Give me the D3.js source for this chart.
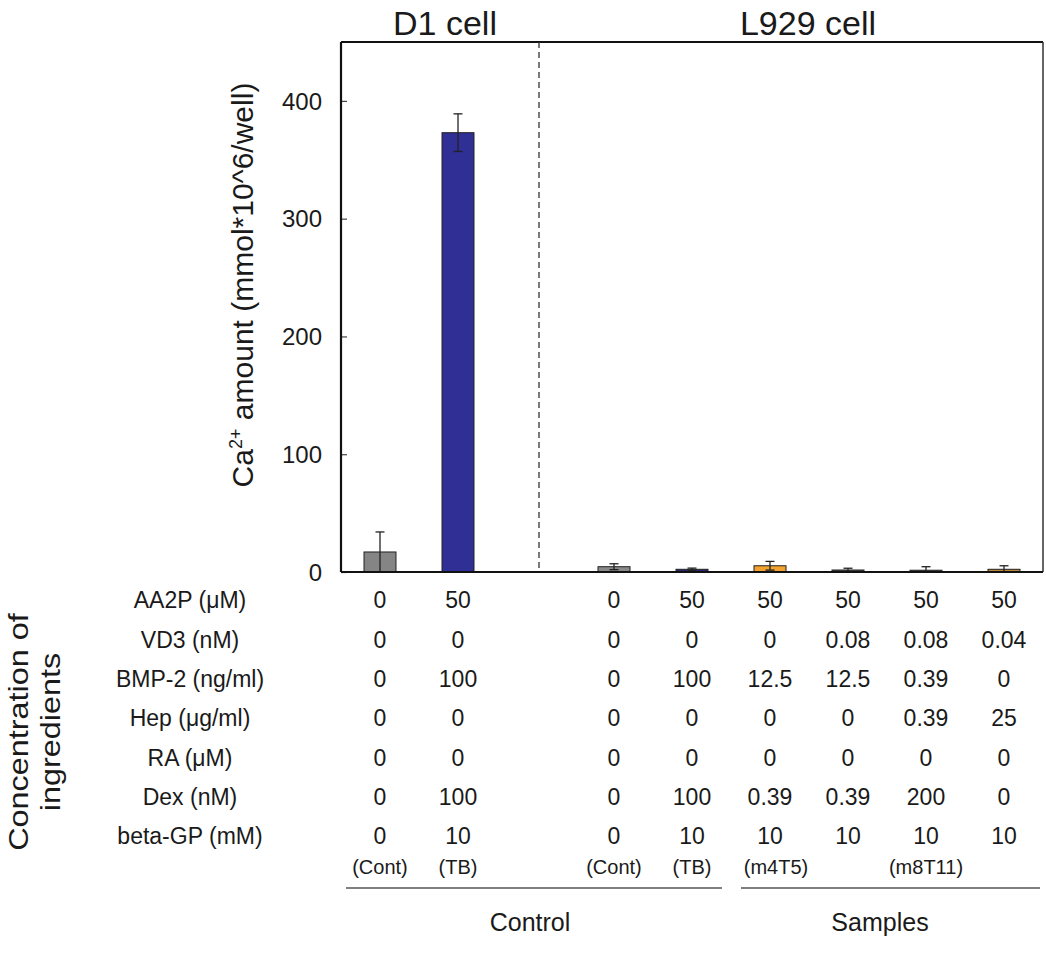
<!DOCTYPE html>
<html>
<head>
<meta charset="utf-8">
<script src="https://cdn.jsdelivr.net/npm/d3@7"></script>
<style>
  body { margin: 0; background: #fff; }
  svg text { font-family: "Liberation Sans", Arial, sans-serif; fill: #1a1a1a; }
</style>
</head>
<body>
<svg id="chart" width="1046" height="972"></svg>
<script>
// slots along the x axis ("gap" is the empty slot under the dashed divider)
const slots = ["d1Cont", "d1TB", "gap", "lCont", "lTB", "s1", "s2", "s3", "s4"];
const barSlots = ["d1Cont", "d1TB", "lCont", "lTB", "s1", "s2", "s3", "s4"];
const barValues = [17, 373, 4.5, 2.3, 5.3, 1.7, 1.5, 2.3];
const barErrors = [17, 16, 2.5, 1, 3.7, 1.5, 3, 3];
const barColors = ["#858585", "#2f2f96", "#8a8a8a", "#262670", "#f2a22e", "#4a4a4a", "#4a4a4a", "#b98735"];

const yTicks = [0, 100, 200, 300, 400];

const rowLabels = ["AA2P (\u03bcM)", "VD3 (nM)", "BMP-2 (ng/ml)", "Hep (\u03bcg/ml)", "RA (\u03bcM)", "Dex (nM)", "beta-GP (mM)"];
const aa2p = ["0", "50", "0", "50", "50", "50", "50", "50"];
const vd3 = ["0", "0", "0", "0", "0", "0.08", "0.08", "0.04"];
const bmp2 = ["0", "100", "0", "100", "12.5", "12.5", "0.39", "0"];
const hep = ["0", "0", "0", "0", "0", "0", "0.39", "25"];
const ra = ["0", "0", "0", "0", "0", "0", "0", "0"];
const dex = ["0", "100", "0", "100", "0.39", "0.39", "200", "0"];
const betaGP = ["0", "10", "0", "10", "10", "10", "10", "10"];
const sampleNames = ["(Cont)", "(TB)", "(Cont)", "(TB)", "(m4T5)", "", "(m8T11)", ""];

const svg = d3.select("#chart");

const x = d3.scaleBand()
  .domain(slots)
  .range([341, 1043])
  .paddingInner(0.59)
  .paddingOuter(0.295);

const y = d3.scaleLinear().domain([0, 450]).range([572, 42]);

const cx = (s) => x(s) + x.bandwidth() / 2;

// frame: top and right border
svg.append("line").attr("x1", 341).attr("x2", 1043).attr("y1", y(450)).attr("y2", y(450))
  .attr("stroke", "#111").attr("stroke-width", 2);
svg.append("line").attr("x1", 1043).attr("x2", 1043).attr("y1", y(450)).attr("y2", y(0))
  .attr("stroke", "#333").attr("stroke-width", 1.5);

// dashed divider between D1 and L929
svg.append("line")
  .attr("x1", cx("gap") + 3).attr("x2", cx("gap") + 3)
  .attr("y1", y(450)).attr("y2", y(0))
  .attr("stroke", "#333").attr("stroke-width", 1.3)
  .attr("stroke-dasharray", "6,4");

// bars
const bars = barSlots.map((s, i) => ({ slot: s, v: barValues[i], e: barErrors[i], c: barColors[i] }));

svg.selectAll(".bar")
  .data(bars)
  .enter()
  .append("rect")
  .attr("class", "bar")
  .attr("x", (d) => x(d.slot))
  .attr("width", x.bandwidth())
  .attr("y", (d) => y(d.v))
  .attr("height", (d) => y(0) - y(d.v))
  .attr("fill", (d) => d.c)
  .attr("stroke", "#222")
  .attr("stroke-width", 1);

// error bars
const err = svg.selectAll(".err").data(bars).enter().append("g").attr("class", "err")
  .attr("stroke", "#222").attr("stroke-width", 1.3);
err.append("line")
  .attr("x1", (d) => cx(d.slot)).attr("x2", (d) => cx(d.slot))
  .attr("y1", (d) => y(Math.max(0, d.v - d.e))).attr("y2", (d) => y(d.v + d.e));
err.append("line")
  .attr("x1", (d) => cx(d.slot) - 4.5).attr("x2", (d) => cx(d.slot) + 4.5)
  .attr("y1", (d) => y(d.v + d.e)).attr("y2", (d) => y(d.v + d.e));
err.append("line")
  .attr("x1", (d) => cx(d.slot) - 4.5).attr("x2", (d) => cx(d.slot) + 4.5)
  .attr("y1", (d) => y(Math.max(0, d.v - d.e))).attr("y2", (d) => y(Math.max(0, d.v - d.e)));

// y axis, ticks pointing inward
const yAxis = svg.append("g")
  .attr("transform", "translate(341,0)")
  .call(d3.axisRight(y).tickValues(yTicks).tickSize(6).tickFormat(""));
yAxis.select(".domain").remove();
yAxis.selectAll(".tick line").attr("stroke", "#444").attr("stroke-width", 1.2);

svg.selectAll(".ylab")
  .data(yTicks)
  .enter()
  .append("text")
  .attr("class", "ylab")
  .attr("x", 322)
  .attr("y", (d) => y(d))
  .attr("dy", "0.36em")
  .attr("text-anchor", "end")
  .attr("font-size", 24)
  .text((d) => d);

svg.append("line").attr("x1", 341).attr("x2", 341).attr("y1", y(450)).attr("y2", y(0))
  .attr("stroke", "#111").attr("stroke-width", 2.2);
svg.append("line").attr("x1", 341).attr("x2", 1043).attr("y1", y(0)).attr("y2", y(0))
  .attr("stroke", "#111").attr("stroke-width", 2.2);

// y axis title
const yTitle = svg.append("text")
  .attr("transform", "translate(253,285) rotate(-90)")
  .attr("text-anchor", "middle")
  .attr("font-size", 30);
yTitle.append("tspan").text("Ca");
yTitle.append("tspan").attr("font-size", 18).attr("dy", -11).text("2+");
yTitle.append("tspan").attr("dy", 11).text(" amount (mmol*10^6/well)");

// panel titles
svg.append("text").attr("x", 445).attr("y", 35).attr("text-anchor", "middle")
  .attr("font-size", 34).text("D1 cell");
svg.append("text").attr("x", 808).attr("y", 35).attr("text-anchor", "middle")
  .attr("font-size", 34).text("L929 cell");

// ingredient table
const table = [aa2p, vd3, bmp2, hep, ra, dex, betaGP];
const rowY = d3.scalePoint().domain(d3.range(rowLabels.length)).range([600, 836]);

svg.selectAll(".rowlab")
  .data(rowLabels)
  .enter()
  .append("text")
  .attr("class", "rowlab")
  .attr("x", 190)
  .attr("y", (d, i) => rowY(i))
  .attr("dy", "0.36em")
  .attr("text-anchor", "middle")
  .attr("font-size", 23)
  .text((d) => d);

table.forEach((row, r) => {
  svg.selectAll(".cell" + r)
    .data(row)
    .enter()
    .append("text")
    .attr("x", (d, i) => cx(barSlots[i]))
    .attr("y", rowY(r))
    .attr("dy", "0.36em")
    .attr("text-anchor", "middle")
    .attr("font-size", 23)
    .text((d) => d);
});

svg.selectAll(".sname")
  .data(sampleNames)
  .enter()
  .append("text")
  .attr("x", (d, i) => cx(barSlots[i]) + (i === 4 ? 6 : 0))
  .attr("y", 867)
  .attr("dy", "0.36em")
  .attr("text-anchor", "middle")
  .attr("font-size", 20)
  .text((d) => d);

// group brackets
svg.append("line").attr("x1", 346).attr("x2", 722).attr("y1", 888).attr("y2", 888)
  .attr("stroke", "#555").attr("stroke-width", 1.5);
svg.append("line").attr("x1", 741).attr("x2", 1040).attr("y1", 888).attr("y2", 888)
  .attr("stroke", "#555").attr("stroke-width", 1.5);
svg.append("text").attr("x", 530).attr("y", 922).attr("dy", "0.36em").attr("text-anchor", "middle")
  .attr("font-size", 25).text("Control");
svg.append("text").attr("x", 880).attr("y", 922).attr("dy", "0.36em").attr("text-anchor", "middle")
  .attr("font-size", 25).text("Samples");

// left rotated caption
const cap = svg.append("g")
  .attr("transform", "translate(0,732) rotate(-90) scale(1.2,1)");
const capText = cap.append("text")
  .attr("text-anchor", "middle")
  .attr("font-size", 27);
capText.append("tspan").attr("x", 0).attr("y", 28).text("Concentration of");
capText.append("tspan").attr("x", 0).attr("y", 60).text("ingredients");
</script>
</body>
</html>
